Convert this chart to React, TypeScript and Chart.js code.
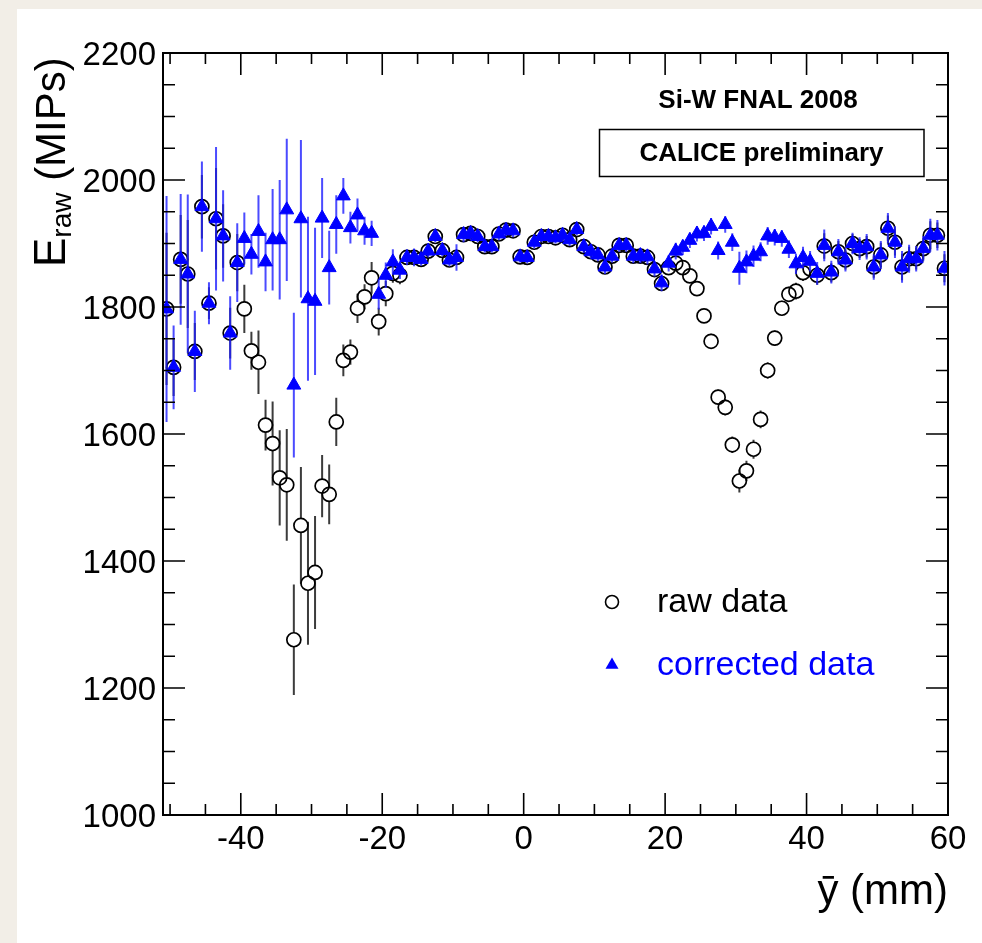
import React, { useEffect, useRef } from "react";
import { Chart, registerables } from "chart.js";

Chart.register(...registerables);

const FONT = '"Liberation Sans", Arial, Helvetica, "DejaVu Sans", sans-serif';

// bin positions (mm)
const X_MM = [
  -50.5, -49.5, -48.5, -47.5, -46.5, -45.5, -44.5, -43.5, -42.5, -41.5, -40.5,
  -39.5, -38.5, -37.5, -36.5, -35.5, -34.5, -33.5, -32.5, -31.5, -30.5, -29.5,
  -28.5, -27.5, -26.5, -25.5, -24.5, -23.5, -22.5, -21.5, -20.5, -19.5, -18.5,
  -17.5, -16.5, -15.5, -14.5, -13.5, -12.5, -11.5, -10.5, -9.5, -8.5, -7.5,
  -6.5, -5.5, -4.5, -3.5, -2.5, -1.5, -0.5, 0.5, 1.5, 2.5, 3.5,
  4.5, 5.5, 6.5, 7.5, 8.5, 9.5, 10.5, 11.5, 12.5, 13.5, 14.5,
  15.5, 16.5, 17.5, 18.5, 19.5, 20.5, 21.5, 22.5, 23.5, 24.5, 25.5,
  26.5, 27.5, 28.5, 29.5, 30.5, 31.5, 32.5, 33.5, 34.5, 35.5, 36.5,
  37.5, 38.5, 39.5, 40.5, 41.5, 42.5, 43.5, 44.5, 45.5, 46.5, 47.5,
  48.5, 49.5, 50.5, 51.5, 52.5, 53.5, 54.5, 55.5, 56.5, 57.5, 58.5,
  59.5,
];

const RAW = [
  1797, 1705, 1875, 1852, 1730, 1958, 1806, 1939, 1912, 1759, 1870,
  1797, 1731, 1713, 1614, 1585, 1531, 1520, 1276, 1456, 1365, 1382,
  1518, 1505, 1619, 1716, 1729, 1798, 1816, 1846, 1777, 1821, 1853,
  1850, 1878, 1878, 1875, 1888, 1911, 1889, 1874, 1878, 1914, 1916,
  1911, 1895, 1895, 1915, 1921, 1920, 1879, 1878, 1902, 1911, 1911,
  1909, 1913, 1906, 1922, 1895, 1887, 1882, 1863, 1880, 1897, 1897,
  1880, 1880, 1878, 1859, 1837, 1862, 1869, 1862, 1849, 1829, 1786,
  1746, 1658, 1642, 1583, 1526, 1542, 1576, 1623, 1700, 1751, 1798,
  1820, 1825, 1854, 1860, 1850, 1896, 1854, 1887, 1874, 1900, 1892,
  1895, 1863, 1882, 1924, 1902, 1863, 1876, 1876, 1892, 1913, 1913,
  1861,
];

const RAW_ERR = [
  120, 45, 70, 85, 45, 50, 25, 80, 50, 40, 45,
  38, 30, 50, 40, 66, 75, 88, 87, 92, 97, 89,
  49, 47, 38, 25, 20, 23, 20, 25, 22, 20, 15,
  14, 10, 10, 9, 9, 8, 8, 9, 12, 10, 9,
  8, 8, 8, 9, 8, 9, 8, 8, 9, 8, 8,
  8, 8, 9, 8, 9, 10, 9, 10, 9, 9, 9,
  10, 10, 10, 10, 11, 11, 11, 11, 11, 11, 11,
  12, 12, 13, 13, 18, 16, 15, 14, 13, 12, 12,
  12, 13, 13, 13, 15, 20, 15, 17, 15, 15, 15,
  17, 17, 19, 20, 21, 21, 19, 17, 17, 22, 20,
  22,
];

const CORR = [
  1797, 1705, 1875, 1852, 1730, 1958, 1806, 1939, 1912, 1759, 1870,
  1908, 1883, 1919, 1871, 1906, 1906, 1953, 1677, 1939, 1813, 1809,
  1940, 1862, 1930, 1975, 1925, 1945, 1920, 1916, 1820, 1850, 1871,
  1858, 1878, 1878, 1875, 1888, 1911, 1889, 1874, 1878, 1914, 1916,
  1911, 1895, 1895, 1915, 1921, 1920, 1879, 1878, 1902, 1911, 1911,
  1909, 1913, 1906, 1922, 1895, 1887, 1882, 1863, 1880, 1897, 1897,
  1880, 1881, 1879, 1860, 1838, 1869, 1888, 1894, 1905, 1915, 1916,
  1927, 1889, 1930, 1902, 1861, 1871, 1880, 1887, 1912, 1910, 1908,
  1891, 1868, 1878, 1872, 1853, 1897, 1855, 1887, 1874, 1900, 1892,
  1895, 1863, 1882, 1924, 1902, 1863, 1876, 1876, 1892, 1913, 1913,
  1861,
];

const CORR_ERR = [
  178, 66, 103, 125, 64, 71, 33, 113, 72, 58, 62,
  41, 32, 57, 46, 80, 94, 112, 114, 124, 129, 116,
  63, 58, 46, 28, 25, 26, 22, 20, 24, 20, 20,
  14, 12, 14, 10, 10, 9, 9, 10, 21, 12, 10,
  9, 9, 9, 10, 9, 10, 9, 9, 10, 9, 9,
  9, 9, 10, 9, 10, 11, 10, 11, 10, 10, 10,
  11, 12, 12, 12, 13, 13, 13, 12, 12, 12, 12,
  13, 14, 13, 14, 26, 18, 17, 15, 14, 13, 13,
  14, 16, 17, 16, 18, 25, 18, 20, 18, 17, 18,
  20, 20, 22, 24, 25, 25, 22, 20, 20, 26, 24,
  27,
];

const X_TICKS = [-40, -20, 0, 20, 40, 60];
const Y_TICKS = [1000, 1200, 1400, 1600, 1800, 2000, 2200];
const X_MIN = -51;
const X_MAX = 60;
const Y_MIN = 1000;
const Y_MAX = 2200;
const X_MINOR_STEP = 5;
const Y_MINOR_STEP = 50;

const SERIES_NAMES = ["raw data", "corrected data"];
const X_TITLE = "ȳ (mm)";
const Y_TITLE_MAIN = "E";
const Y_TITLE_SUB = "raw";
const Y_TITLE_REST = " (MIPs)";
const LABEL_TOP = "Si-W FNAL 2008";
const LABEL_BOX = "CALICE preliminary";

const W = 982;
const H = 943;

const rootStyle = {
  id: "rootStyle",
  beforeDraw(chart: any) {
    const ctx = chart.ctx;
    ctx.save();
    ctx.fillStyle = "#f2eee7";
    ctx.fillRect(0, 0, W, H);
    ctx.fillStyle = "#ffffff";
    ctx.fillRect(17, 9, W - 17, H - 9);
    ctx.restore();
  },
  beforeDatasetDraw(chart: any, args: any) {
    const ds: any = chart.data.datasets[args.index];
    if (!ds.errors) return;
    const ctx = chart.ctx;
    const xs = chart.scales.x;
    const ys = chart.scales.y;
    ctx.save();
    ctx.strokeStyle = ds.errorColor;
    ctx.lineWidth = ds.errorWidth;
    ds.data.forEach((p: any, i: number) => {
      const e = ds.errors[i];
      const px = xs.getPixelForValue(p.x);
      const py = ys.getPixelForValue(p.y);
      const top = ys.getPixelForValue(p.y + e);
      const bot = ys.getPixelForValue(p.y - e);
      const g = ds.errorGap;
      ctx.beginPath();
      if (py - g > top) {
        ctx.moveTo(px, top);
        ctx.lineTo(px, py - g);
      }
      if (py + g < bot) {
        ctx.moveTo(px, py + g);
        ctx.lineTo(px, bot);
      }
      ctx.stroke();
    });
    ctx.restore();
  },
  afterDraw(chart: any) {
    const ctx = chart.ctx;
    const a = chart.chartArea;
    const xs = chart.scales.x;
    const ys = chart.scales.y;
    ctx.save();
    // ticks (inward, all four sides)
    ctx.strokeStyle = "#000";
    ctx.lineWidth = 1.6;
    ctx.beginPath();
    for (let v = Math.ceil(X_MIN / X_MINOR_STEP) * X_MINOR_STEP; v <= X_MAX; v += X_MINOR_STEP) {
      const p = xs.getPixelForValue(v);
      const len = X_TICKS.includes(v) ? 22 : 11;
      ctx.moveTo(p, a.bottom);
      ctx.lineTo(p, a.bottom - len);
      ctx.moveTo(p, a.top);
      ctx.lineTo(p, a.top + len);
    }
    for (let v = Y_MIN; v <= Y_MAX; v += Y_MINOR_STEP) {
      const p = ys.getPixelForValue(v);
      const len = Y_TICKS.includes(v) ? 22 : 12;
      ctx.moveTo(a.left, p);
      ctx.lineTo(a.left + len, p);
      ctx.moveTo(a.right, p);
      ctx.lineTo(a.right - len, p);
    }
    ctx.stroke();
    // frame
    ctx.lineWidth = 2;
    ctx.strokeRect(a.left, a.top, a.right - a.left, a.bottom - a.top);

    // labels
    ctx.fillStyle = "#000";
    ctx.textAlign = "center";
    ctx.textBaseline = "alphabetic";
    ctx.font = `bold 26px ${FONT}`;
    ctx.fillText(LABEL_TOP, 758, 108);
    ctx.lineWidth = 1.5;
    ctx.strokeRect(599.5, 129.5, 324.5, 47);
    ctx.font = `bold 26px ${FONT}`;
    ctx.fillText(LABEL_BOX, 761.5, 161);

    // legend
    ctx.textAlign = "left";
    ctx.font = `34px ${FONT}`;
    ctx.strokeStyle = "#000";
    ctx.lineWidth = 1.6;
    ctx.beginPath();
    ctx.arc(612, 602, 6.5, 0, Math.PI * 2);
    ctx.stroke();
    ctx.fillStyle = "#000";
    ctx.fillText(SERIES_NAMES[0], 657, 612);
    ctx.fillStyle = "#0000ff";
    const tr = 7.5;
    ctx.beginPath();
    ctx.moveTo(612, 665 - tr);
    ctx.lineTo(612 + tr * 0.866, 665 + tr * 0.5);
    ctx.lineTo(612 - tr * 0.866, 665 + tr * 0.5);
    ctx.closePath();
    ctx.fill();
    ctx.fillText(SERIES_NAMES[1], 657, 675);

    // x title
    ctx.fillStyle = "#000";
    ctx.textAlign = "right";
    ctx.font = `42px ${FONT}`;
    ctx.fillText(X_TITLE, 948, 904);

    // y title (rotated)
    ctx.save();
    ctx.translate(65, 267);
    ctx.rotate(-Math.PI / 2);
    ctx.textAlign = "left";
    ctx.font = `44px ${FONT}`;
    ctx.fillText(Y_TITLE_MAIN, 0, 0);
    let w = ctx.measureText(Y_TITLE_MAIN).width;
    ctx.font = `28px ${FONT}`;
    ctx.fillText(Y_TITLE_SUB, w, 6);
    w += ctx.measureText(Y_TITLE_SUB).width;
    ctx.font = `42px ${FONT}`;
    ctx.fillText(Y_TITLE_REST, w, 0);
    ctx.restore();

    ctx.restore();
  },
};

export default function App() {
  const ref = useRef<HTMLCanvasElement | null>(null);
  useEffect(() => {
    if (!ref.current) return;
    const chart = new Chart(ref.current, {
      type: "scatter",
      data: {
        datasets: [
          {
            label: SERIES_NAMES[0],
            data: X_MM.map((x, i) => ({ x, y: RAW[i] })),
            errors: RAW_ERR,
            errorColor: "#3c3c3c",
            errorWidth: 2,
            errorGap: 7,
            pointStyle: "circle",
            pointRadius: 7,
            pointBorderWidth: 1.7,
            pointBorderColor: "#000",
            pointBackgroundColor: "rgba(255,255,255,0)",
            showLine: false,
            order: 2,
          } as any,
          {
            label: SERIES_NAMES[1],
            data: X_MM.map((x, i) => ({ x, y: CORR[i] })),
            errors: CORR_ERR,
            errorColor: "rgba(30,30,255,0.8)",
            errorWidth: 2,
            errorGap: 0,
            pointStyle: "triangle",
            pointRadius: 8,
            pointBorderWidth: 1,
            pointBorderColor: "#0000ff",
            pointBackgroundColor: "#0000ff",
            showLine: false,
            order: 1,
          } as any,
        ],
      },
      options: {
        responsive: false,
        animation: false,
        events: [],
        layout: { padding: { left: 0, right: 34, top: 53, bottom: 0 } },
        plugins: {
          legend: { display: false },
          tooltip: { enabled: false },
          title: { display: false },
        },
        scales: {
          x: {
            type: "linear",
            min: X_MIN,
            max: X_MAX,
            grid: { display: false, drawTicks: false },
            border: { display: false },
            afterBuildTicks: (s: any) => {
              s.ticks = X_TICKS.map((v) => ({ value: v }));
            },
            afterFit: (s: any) => {
              s.height = 128;
            },
            ticks: {
              font: { family: FONT, size: 33 },
              color: "#000",
              padding: 5,
              maxRotation: 0,
              autoSkip: false,
              callback: (v: any) => String(v),
            },
          },
          y: {
            type: "linear",
            min: Y_MIN,
            max: Y_MAX,
            grid: { display: false, drawTicks: false },
            border: { display: false },
            afterBuildTicks: (s: any) => {
              s.ticks = Y_TICKS.map((v) => ({ value: v }));
            },
            afterFit: (s: any) => {
              s.width = 163;
            },
            ticks: {
              font: { family: FONT, size: 33 },
              color: "#000",
              padding: 7,
              labelOffset: 3,
              autoSkip: false,
              callback: (v: any) => String(v),
            },
          },
        },
      } as any,
      plugins: [rootStyle as any],
    });
    return () => chart.destroy();
  }, []);
  return (
    <div style={{ position: "absolute", left: 0, top: 0, width: W, height: H }}>
      <canvas ref={ref} width={W} height={H} style={{ width: W, height: H, display: "block" }} />
    </div>
  );
}
